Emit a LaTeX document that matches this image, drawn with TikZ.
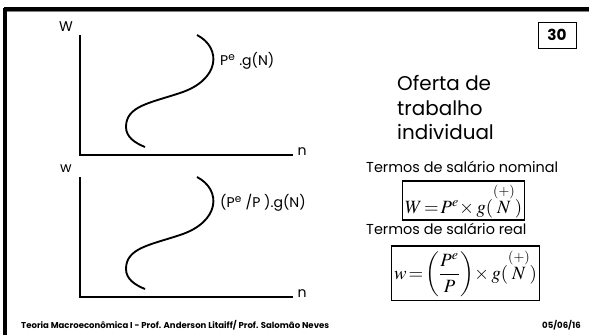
\documentclass[tikz,border=0pt]{standalone}
\usepackage{amsmath}
\usepackage{mathptmx}
\usepackage{fontspec}
\setmainfont{Poppins}
\usetikzlibrary{positioning}
\definecolor{slidegrey}{RGB}{128,128,128}

\begin{document}
\begin{tikzpicture}[x=0.03cm, y=-0.03cm,
    axis/.style={line width=1.6pt},
    curve/.style={line width=1.6pt},
    axlabel/.style={font=\fontsize{12}{14}\selectfont, inner sep=0pt},
    curvelabel/.style={font=\fontsize{12}{14}\selectfont, anchor=west, inner sep=0pt},
    side/.style={font=\fontsize{12.3}{14}\selectfont, anchor=west, inner sep=0pt},
    eqbox/.style={draw, line width=1.3pt, inner xsep=2pt},
    foot/.style={font=\bfseries\fontsize{7.3}{8}\selectfont, inner sep=0pt}]
    % bounding box
    \useasboundingbox (0,0) rectangle (589,335);

    % slide frame
    \draw[slidegrey, line width=0.8pt] (7,11.5) -- (589,11.5);
    \draw[line width=2.6pt] (4,9) -- (589,9);
    \draw[line width=2.6pt] (5,7.5) -- (5,335);

    % the two graphs
    \foreach \dy/\lab/\cur in {0/W/{P\textsuperscript{e} .g(N)}, 142/w/{(P\textsuperscript{e} /P ).g(N)}}
    {
        \begin{scope}[shift={(0,\dy)}]
            \coordinate (top) at (80,35);
            \coordinate (orig) at (80,155);
            \coordinate (right) at (293,155);
            \draw[axis] (top) -- (orig) -- (right);
            \node[axlabel] at (66,27) {\lab};
            \node[axlabel] at (302,152) {n};
            \draw[curve] (197,35) .. controls (222,48) and (220,80) .. (180,93)
                .. controls (150,103) and (126,106) .. (126,127)
                .. controls (126,137) and (135,143) .. (145,147);
            \node[curvelabel] at (220,61) {\cur};
        \end{scope}
    }

    % page number
    \node[draw, line width=0.7pt, minimum width=38*0.03cm, minimum height=26*0.03cm,
        font=\bfseries\fontsize{13}{15}\selectfont] (page) at (557,35) {30};

    % title
    \node[anchor=north west, align=left, inner sep=0pt,
        font=\fontsize{17}{21}\selectfont] (title) at (397,75)
        {Oferta de\\trabalho\\individual};

    % equations
    \node[side] (nomlab) at (366,167) {Termos de salário nominal};
    \node[eqbox, inner ysep=2pt] (nomeq) at (463.5,200.5)
        {\fontsize{16}{17}\selectfont$W\!=\!P^{e}\!\times g(\overset{(+)}{N})$};
    \node[side] (reallab) at (366,228.5) {Termos de salário real};
    \node[eqbox, inner ysep=3pt, anchor=north] (realeq) at (465.5,245)
        {\fontsize{16}{17}\selectfont$w\!=\!\left(\dfrac{P^{e}}{P}\rule[-9pt]{0pt}{22pt}\right)\!\times g(\overset{(+)}{N})$};

    % footer
    \node[foot, anchor=west] (course) at (21,325)
        {Teoria Macroeconômica I - Prof. Anderson Litaiff/ Prof. Salomão Neves};
    \node[foot, anchor=east] (date) at (581,325) {05/06/16};
\end{tikzpicture}
\end{document}
